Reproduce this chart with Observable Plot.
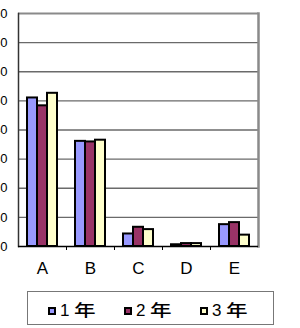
<!DOCTYPE html>
<html>
<head>
<meta charset="utf-8">
<script src="https://cdn.jsdelivr.net/npm/d3@7"></script>
<script src="https://cdn.jsdelivr.net/npm/@observablehq/plot@0.6"></script>
<style>
  html, body { margin: 0; padding: 0; background: #fff; }
  #wrap { position: relative; width: 300px; height: 328px; overflow: hidden; }
  #chart { position: absolute; left: 0; top: 0; }
  .legend { position: absolute; left: 27px; top: 291px; width: 245px; height: 32px; border: 1px solid #777; box-sizing: content-box; }
  .sw { position: absolute; top: 15px; width: 8px; height: 8px; box-sizing: border-box; border: 2px solid #000; }
  .lab { position: absolute; top: 7px; height: 20px; line-height: 20px; white-space: nowrap; color: #000; }
  .num { font-family: "Liberation Sans", Arial, sans-serif; font-size: 17px; vertical-align: baseline; }
  .nen { font-family: "Noto Sans CJK JP", sans-serif; font-size: 16px; font-weight: 500; display: inline-block; transform: scaleX(1.35); transform-origin: left center; margin-left: 5px; vertical-align: baseline; }
</style>
</head>
<body>
<div id="wrap">
  <div id="chart"></div>
  <div class="legend" id="legend"></div>
</div>
<script>
// ---- data ----
const categories = ["A", "B", "C", "D", "E"];
const seriesNames = ["1年", "2年", "3年"];
const year1 = [51.0, 36.1, 4.3, 0.6, 7.5];
const year2 = [48.3, 35.9, 6.6, 1.0, 8.2];
const year3 = [52.6, 36.5, 5.8, 1.0, 3.9];
const yTicks = [0, 10, 20, 30, 40, 50, 60, 70, 80];
const colors = ["#9999FF", "#993366", "#FFFFCC"];

// ---- layout ----
const W = 300, H = 280, mL = 18, mR = 42, mT = 13, mB = 34;
const bw = (W - mL - mR) / categories.length;
const barW = 10;
const outer = (bw - seriesNames.length * barW) / 2;
const series = [year1, year2, year3];

const bars = series.map((vals, s) =>
  Plot.barY(categories.map((c, i) => ({cat: c, v: vals[i]})), {
    x: "cat", y: "v",
    fill: colors[s], stroke: "#000", strokeWidth: 2,
    insetLeft: outer + s * barW,
    insetRight: bw - outer - (s + 1) * barW
  })
);

const chart = Plot.plot({
  width: W, height: H,
  marginLeft: mL, marginRight: mR, marginTop: mT, marginBottom: mB,
  style: {fontFamily: "'Liberation Sans', Arial, sans-serif", background: "white", color: "#000"},
  x: {domain: categories, paddingInner: 0, paddingOuter: 0, round: false, label: null, axis: null},
  y: {domain: [0, 80], label: null, axis: null},
  marks: [
    Plot.ruleY(yTicks.slice(1, -1), {stroke: "#6a6a6a", strokeWidth: 1.3}),
    ...bars,
    Plot.ruleY([80], {stroke: "#8a8a8a", strokeWidth: 2}),
    Plot.frame({anchor: "right", stroke: "#8a8a8a", strokeWidth: 2.5}),
    Plot.frame({anchor: "left", stroke: "#333", strokeWidth: 1.5}),
    Plot.ruleY([0], {stroke: "#000", strokeWidth: 1.5}),
    Plot.ruleX(categories.slice(1), {x: d => d, dx: -bw / 2, y1: 0, y2: 0, insetBottom: -4, stroke: "#000"}),
    Plot.axisX({tickSize: 0, tickPadding: 15, fontSize: 17, label: null}),
    Plot.axisY(yTicks, {tickSize: 0, tickPadding: 11, fontSize: 13, label: null})
  ]
});
document.getElementById("chart").appendChild(chart);

// ---- legend ----
const legend = document.getElementById("legend");
seriesNames.forEach((name, i) => {
  const x0 = 20 + i * 76;
  const sw = document.createElement("div");
  sw.className = "sw";
  sw.style.left = x0 + "px";
  sw.style.background = colors[i];
  const lab = document.createElement("div");
  lab.className = "lab";
  lab.style.left = (x0 + 12) + "px";
  const num = document.createElement("span");
  num.className = "num";
  num.textContent = name.slice(0, 1);
  const nen = document.createElement("span");
  nen.className = "nen";
  nen.textContent = name.slice(1);
  lab.append(num, nen);
  legend.append(sw, lab);
});
</script>
</body>
</html>
